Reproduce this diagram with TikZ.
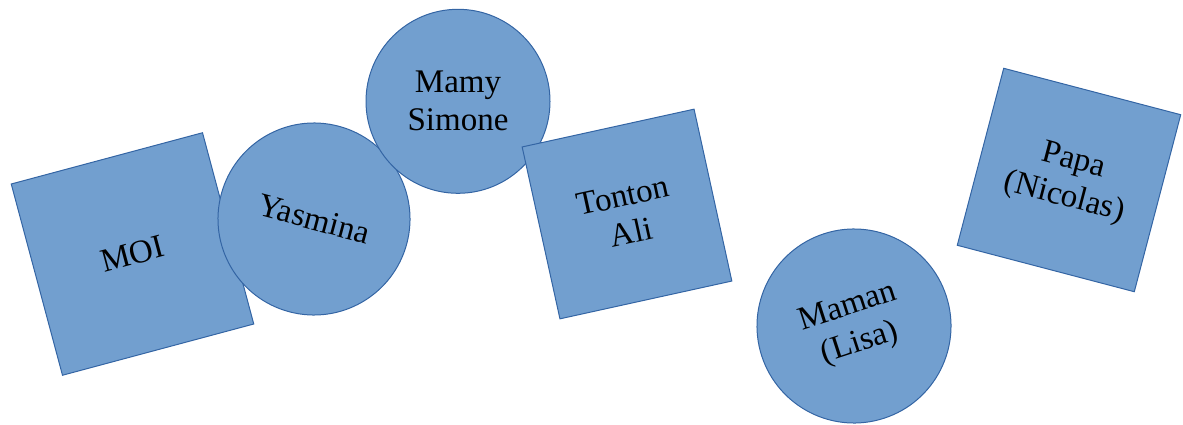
\documentclass[tikz,border=0pt]{standalone}
\usepackage{fontspec}
\setmainfont{Liberation Serif}
\begin{document}
\begin{tikzpicture}[x=1pt,y=1pt,
  shapebase/.style={fill={rgb,255:red,114;green,159;blue,207},draw={rgb,255:red,52;green,101;blue,164},line width=1pt,inner sep=0pt,align=center,font=\fontsize{33}{38}\selectfont},
  sqbox/.style={shapebase,rectangle,minimum width=#1,minimum height=#1},
  circbox/.style={shapebase,circle,minimum size=#1}]
\useasboundingbox (0,0) rectangle (1183,424);
\node[sqbox=198pt,rotate=15] (moi) at (132.5,170) {MOI};
\node[circbox=192pt,rotate=-15] (yasmina) at (314,205) {Yasmina};
\node[circbox=184pt] (mamy) at (458,322.7) {Mamy\\Simone};
\node[sqbox=176pt,rotate=12.4] (tonton) at (627,210) {Tonton\\Ali};
\node[circbox=194pt,rotate=18] (maman) at (854,98) {Maman\\(Lisa)};
\node[sqbox=183pt,rotate=-14.7] (papa) at (1069,244) {Papa\\(Nicolas)};
\end{tikzpicture}
\end{document}
